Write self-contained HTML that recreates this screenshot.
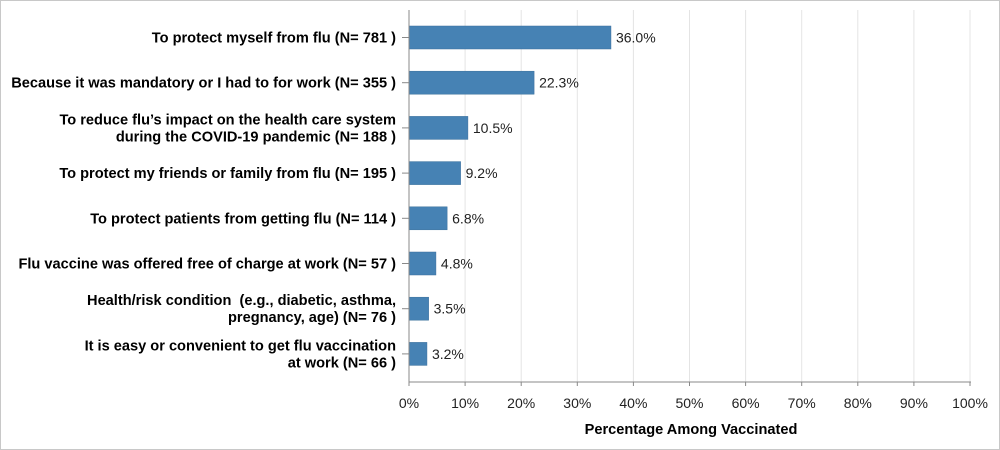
<!DOCTYPE html>
<html><head><meta charset="utf-8"><style>
body{margin:0;background:#fff;}
svg{display:block;font-family:"Liberation Sans",Arial,sans-serif;}
</style></head><body>
<svg width="1000" height="450">
<rect x="0.5" y="0.5" width="999" height="449" fill="#fff" stroke="#c8c8c8"/>
<g id="grid"></g>
<g id="bars"></g>
<g id="ylab"></g>
<g id="xaxis"></g>
<text x="691" y="434" text-anchor="middle" font-size="14.6" font-weight="bold">Percentage Among Vaccinated</text>
</svg>
<script>
const categories=[
["To protect myself from flu (N= 781 )"],
["Because it was mandatory or I had to for work (N= 355 )"],
["To reduce flu’s impact on the health care system","during the COVID-19 pandemic (N= 188 )"],
["To protect my friends or family from flu (N= 195 )"],
["To protect patients from getting flu (N= 114 )"],
["Flu vaccine was offered free of charge at work (N= 57 )"],
["Health/risk condition\u00a0 (e.g., diabetic, asthma,","pregnancy, age) (N= 76 )"],
["It is easy or convenient to get flu vaccination","at work (N= 66 )"]];
const values=[36.0,22.3,10.5,9.2,6.8,4.8,3.5,3.2];
const ticks=[0,10,20,30,40,50,60,70,80,90,100];
const NS="http://www.w3.org/2000/svg";
const x0=409,x1=970,yTop=10,yBot=382;
const xs=v=>x0+(x1-x0)*v/100;
const step=45.2,first=37.5,bh=23;
const yc=i=>first+i*step;
function mk(t,a,p){const e=document.createElementNS(NS,t);for(const k in a)e.setAttribute(k,a[k]);p.appendChild(e);return e;}
const grid=document.getElementById('grid'),bars=document.getElementById('bars'),yl=document.getElementById('ylab'),xa=document.getElementById('xaxis');
ticks.forEach(t=>{
 if(t>0){const g=mk('line',{x1:xs(t),x2:xs(t),y1:yTop,y2:yBot,stroke:'#e4e4e4'},grid);
 
 }
 const tk=mk('line',{x1:xs(t),x2:xs(t),y1:yBot,y2:yBot+4,stroke:'#888'},xa);
 
 
 const tl=mk('text',{x:xs(t),y:408,'text-anchor':'middle','font-size':14,fill:'#222'},xa);
 tl.textContent=t+'%';
 
 
});
const ax=mk('line',{x1:x0,x2:x1+1,y1:yBot,y2:yBot,stroke:'#888'},xa);


const ay=mk('line',{x1:x0,x2:x0,y1:yTop,y2:yBot,stroke:'#888'},xa);


values.forEach((v,i)=>{
 const y=yc(i);
 const r=mk('rect',{x:x0,y:y-bh/2,width:xs(v)-x0,height:bh,fill:'#4682b4',stroke:'#3a6f9c','stroke-width':0.5},bars);
 
 
 const lt=mk('text',{x:xs(v)+5,y:y+5,'font-size':14,fill:'#222'},bars);
 lt.textContent=v.toFixed(1)+'%';
 
 
 const tk=mk('line',{x1:x0-7,x2:x0,y1:y,y2:y,stroke:'#888'},yl);
 
 
 const lines=categories[i];
 const txt=mk('text',{'text-anchor':'end','font-size':14.6,'font-weight':'bold',fill:'#000'},yl);
 
 
 lines.forEach((s,j)=>{
  const ts=mk('tspan',{x:396,y:y+5+(j-(lines.length-1)/2)*17},txt);
  ts.textContent=s;
 });
});
</script>
</body></html>
